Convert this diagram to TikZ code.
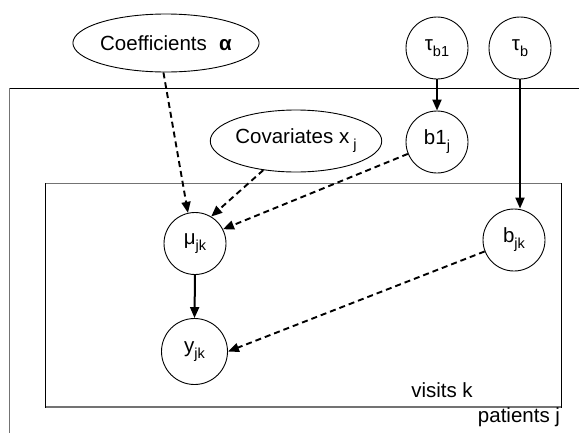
\documentclass[tikz,border=0pt]{standalone}
\usepackage{fontspec}
\setmainfont{Liberation Sans}
\usetikzlibrary{shapes.geometric,arrows.meta}
% lowered, smaller index text
\newcommand{\idx}[1]{\raisebox{-0.55ex}{\fontsize{14.5}{14.5}\selectfont #1}}

\begin{document}
\begin{tikzpicture}[x=1pt,y=-1pt,
  every node/.style={font=\fontsize{20.5}{22}\selectfont},
  var/.style={circle,draw,line width=0.9pt,minimum size=62pt,inner sep=0pt},
  given/.style={ellipse,draw,line width=0.9pt,inner sep=0pt},
  tip/.style={-{Triangle[length=11pt,width=9pt]}},
  link/.style={tip,line width=2pt},
  soft/.style={tip,line width=1.9pt,dash pattern=on 6pt off 4pt},
  plateedge/.style={line width=0.9pt,black},
  plateshade/.style={line width=1.6pt,black!55}]
\useasboundingbox (0,0) rectangle (579,432);

% plates
\draw[plateshade] (9.5,88) -- (9.5,434);
\draw[plateedge] (9.5,88) -- (581,88);
\draw[plateshade] (45,183.5) -- (561,183.5);
\draw[plateshade] (45,407) -- (561,407);
\draw[plateedge] (45,183) -- (45,407.5);
\draw[plateedge] (561,183) -- (561,407.5);
\node (visits) at (442,390) {visits k};
\node (patients) at (519,417) {patients j};

% nodes
\node[given,minimum width=168pt,minimum height=58pt] (coef) at (166,43)
  {Coefficients\hspace{0.6em}\textbf{α}};
\node[given,minimum width=166pt,minimum height=62pt] (cov) at (296,141)
  {Covariates x\hspace{0.2em}\idx{j}};
\node[var] (taub1) at (437,48) {τ\idx{b1}};
\node[var] (taub) at (520,48) {τ\idx{b}};
\node[var] (b1) at (437,142) {b1\idx{j}};
\node[var] (mu) at (195,243.5) {μ\idx{jk}};
\node[var,minimum size=66pt] (y) at (194.5,351.5) {y\idx{jk}};
\node[var] (bjk) at (514,240) {b\idx{jk}};

% connectors
\draw[link] (taub1) -- (b1);
\draw[link] (taub.south) -- (taub |- bjk.north);
\draw[link] (mu.south) -- (y.north);
\draw[soft] (coef.265) -- (mu.103);
\draw[soft] (cov) -- (mu.59);
\draw[soft] (b1) -- (mu.27);
\draw[soft] (bjk) -- (y.east);
\end{tikzpicture}
\end{document}
